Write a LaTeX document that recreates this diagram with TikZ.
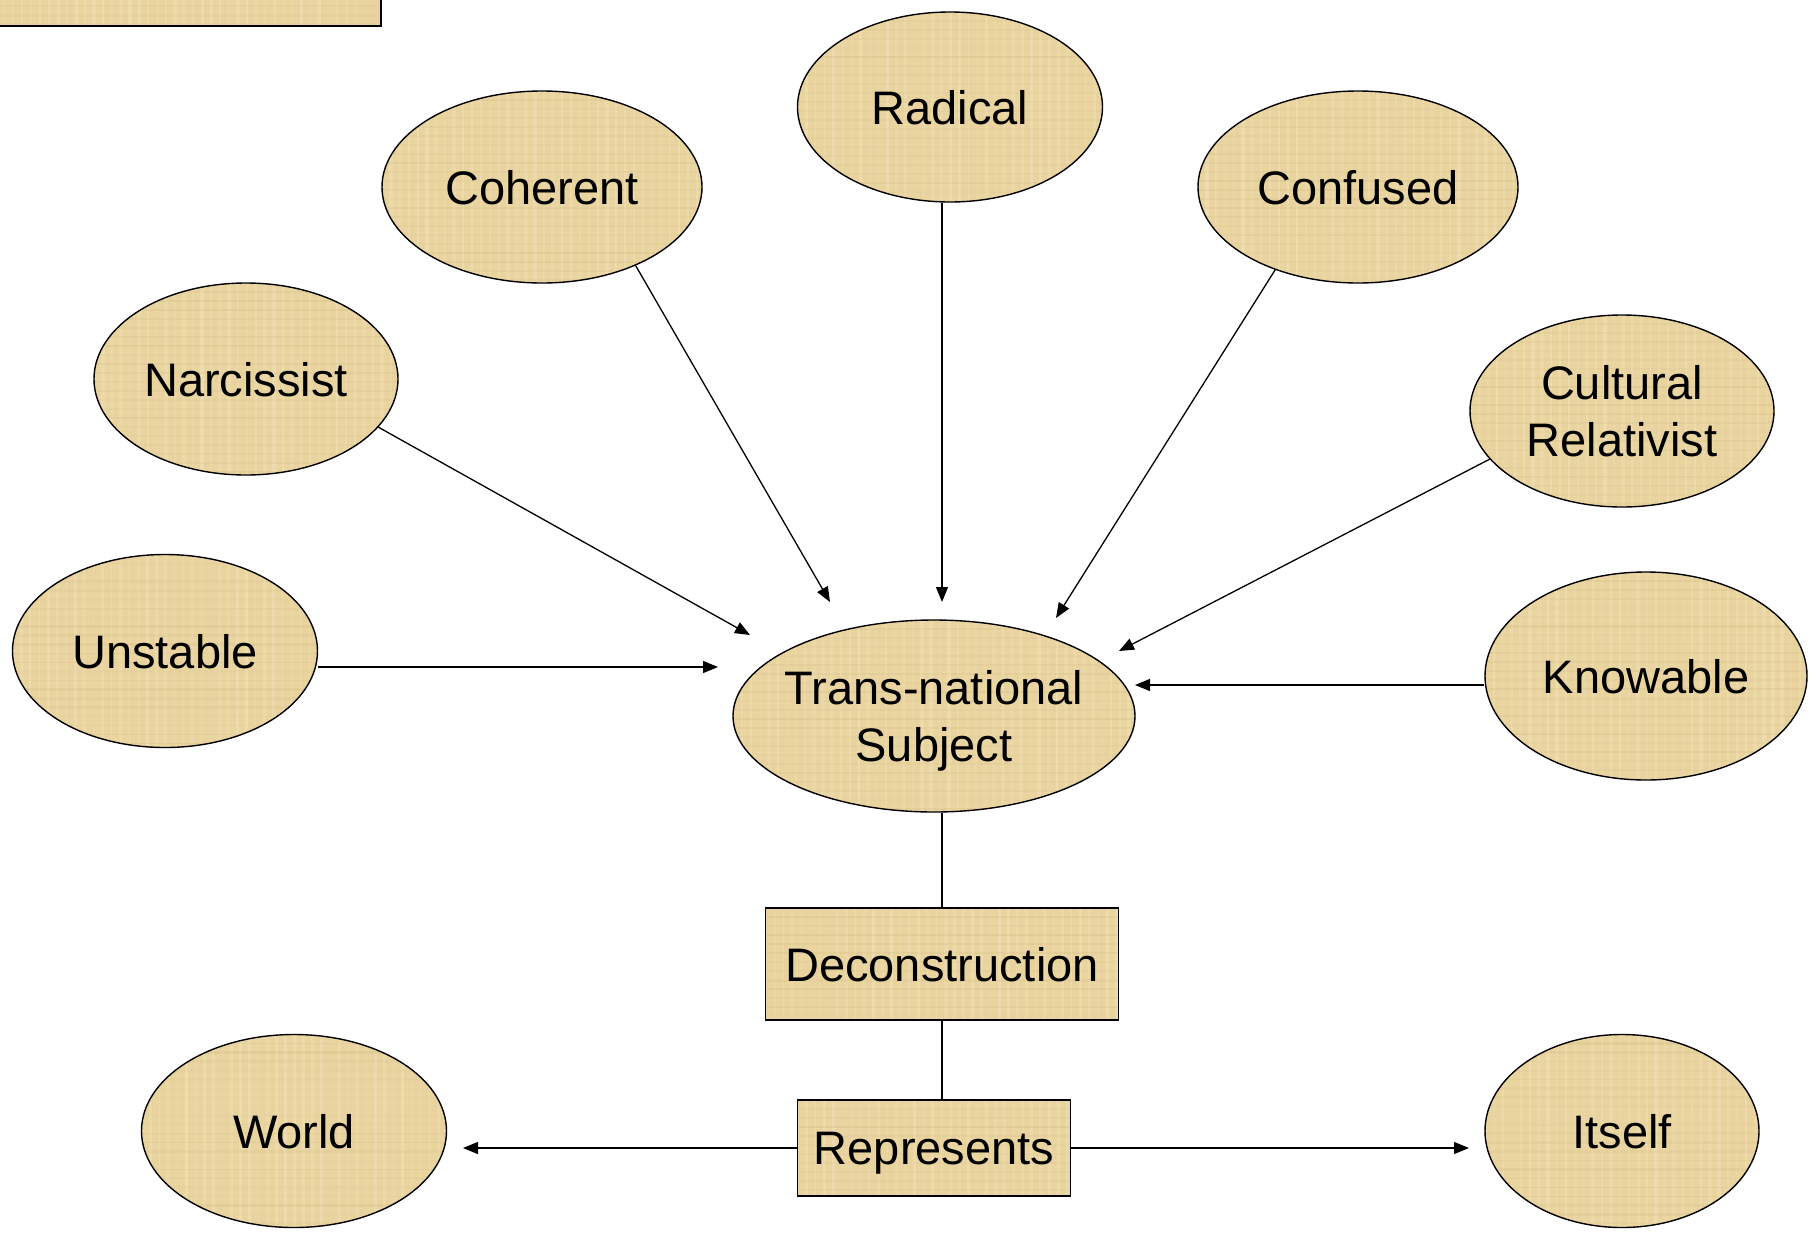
\documentclass[tikz,border=0pt]{standalone}
\usepackage{fontspec}
\setmainfont{Liberation Sans}
\usetikzlibrary{shapes.geometric,arrows.meta}

\definecolor{papyrus}{RGB}{233,212,160}
\definecolor{papyruslight}{RGB}{248,236,204}
\definecolor{papyrusdark}{RGB}{200,172,112}

\tikzset{
  % papyrus-like fill: base colour plus faint woven fibres
  fibres/.style={path picture={
    \foreach \k in {0,...,46}{
      \pgfmathsetmacro\op{0.10+0.25*rnd}
      \pgfmathsetmacro\lw{1+3*rnd}
      \draw[draw=papyruslight, opacity=\op, line width=\lw bp]
        ([xshift=\k*9bp]path picture bounding box.north west) --
        ([xshift=\k*9bp]path picture bounding box.south west);
    }
    \foreach \k in {0,...,24}{
      \pgfmathsetmacro\op{0.06+0.14*rnd}
      \pgfmathsetmacro\lw{1+2*rnd}
      \draw[draw=papyrusdark, opacity=\op, line width=\lw bp]
        ([yshift=-\k*9bp]path picture bounding box.north west) --
        ([yshift=-\k*9bp]path picture bounding box.north east);
    }
  }},
  oval/.style={ellipse, draw=black, line width=1.4bp, fill=papyrus, fibres,
    inner sep=0pt},
  paperbox/.style={rectangle, draw=black, line width=1.6bp, fill=papyrus, fibres,
    inner sep=0pt, text depth=0pt},
  lbl/.style={align=center, text depth=0pt, inner sep=0pt},
  arr/.style={line width=1.3bp, -{Triangle[length=15bp,width=12bp]}},
  link/.style={line width=1.3bp},
}

\begin{document}
\pgfmathsetseed{7}
\begin{tikzpicture}[x=1bp, y=-1bp,
  every node/.append style={font=\fontsize{47bp}{57bp}\selectfont}]
\clip (0,0) rectangle (1820,1239);

% box running off the top-left corner
\node[paperbox, anchor=south east, minimum width=440bp, minimum height=110bp]
  (topbox) at (382,27) {};

% central subject
\node[oval, minimum width=402bp, minimum height=192bp] (tns) at (934,716) {};
\node[lbl] (tnsL) at (tns) {Trans-national\\Subject};

% attributes around the subject
\node[oval, minimum width=305bp, minimum height=190bp] (rad) at (950,107) {};
\node[lbl] (radL) at (rad) {Radical};
\node[oval, minimum width=320bp, minimum height=192bp] (coh) at (542,187) {};
\node[lbl] (cohL) at (coh) {Coherent};
\node[oval, minimum width=320bp, minimum height=192bp] (con) at (1358,187) {};
\node[lbl] (conL) at (con) {Confused};
\node[oval, minimum width=304bp, minimum height=192bp] (nar) at (246,379) {};
\node[lbl] (narL) at (nar) {Narcissist};
\node[oval, minimum width=304bp, minimum height=192bp] (cul) at (1622,411) {};
\node[lbl] (culL) at (cul) {Cultural\\Relativist};
\node[oval, minimum width=305bp, minimum height=193bp] (uns) at (165,651) {};
\node[lbl] (unsL) at (uns) {Unstable};
\node[oval, minimum width=322bp, minimum height=208bp] (kno) at (1646,676) {};
\node[lbl] (knoL) at (kno) {Knowable};

% deconstruction chain
\node[paperbox, minimum width=353bp, minimum height=112bp] (dec) at (942,964) {Deconstruction};
\node[paperbox, minimum width=273bp, minimum height=96bp] (rep) at (934,1148) {Represents};
\node[oval, minimum width=305bp, minimum height=193bp] (wor) at (294,1131) {};
\node[lbl] (worL) at (wor) {World};
\node[oval, minimum width=274bp, minimum height=193bp] (its) at (1622,1131) {};
\node[lbl] (itsL) at (its) {Itself};

% arrow tips stop short of their targets
\coordinate (tcoh) at (830,602);
\coordinate (trad) at (942,602);
\coordinate (tcon) at (1056,618);
\coordinate (tnar) at (750,635);
\coordinate (tcul) at (1119,651);
\coordinate (tuns) at (718,667);
\coordinate (tkno) at (1135,685);
\coordinate (twor) at (463,1148);
\coordinate (tits) at (1469,1148);

\draw[arr] (trad |- rad.south) -- (trad);
\draw[arr] (coh.-40) -- (tcoh);
\draw[arr] (con.-135) -- (tcon);
\draw[arr] (nar.-20) -- (tnar);
\draw[arr] (cul.200) -- (tcul);
\draw[arr] (tuns -| uns.east) -- (tuns);
\draw[arr] (tkno -| kno.west) -- (tkno);

\draw[link] (dec.north) -- (dec.north |- tns.south);
\draw[link] (dec.south) -- (dec.south |- rep.north);
\draw[arr] (rep.west) -- (twor);
\draw[arr] (rep.east) -- (tits);
\end{tikzpicture}
\end{document}
